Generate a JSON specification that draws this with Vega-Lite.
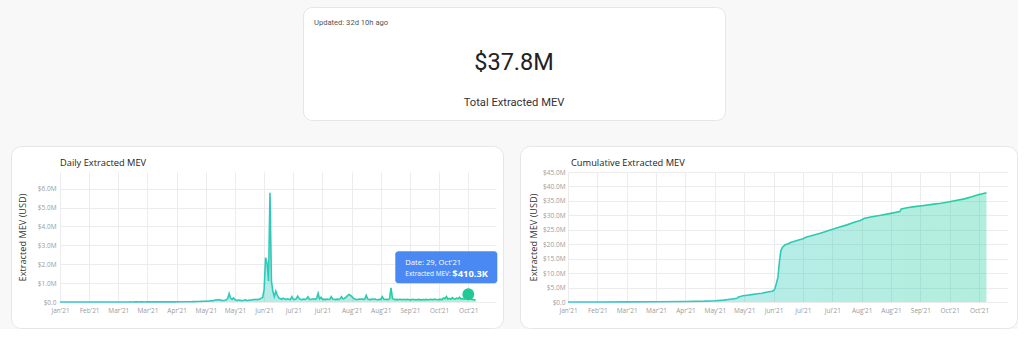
{
  "$schema": "https://vega.github.io/schema/vega-lite/v6.json",
  "background": "#f8f8f8",
  "padding": {"left": 10, "top": 6, "right": 0, "bottom": 0},
  "spacing": 24,
  "config": {
    "font": "Open Sans",
    "view": {"stroke": null},
    "axis": {"labelFont": "Open Sans", "labelFontSize": 6.5, "labelColor": "#9b9b9b", "titleFont": "Open Sans", "titleFontSize": 9.2, "titleFontWeight": "normal", "titleColor": "#333333", "gridColor": "#ececec", "gridWidth": 1, "domain": false, "ticks": false},
    "title": {"font": "Open Sans", "fontSize": 9.3, "fontWeight": "normal", "color": "#222222", "anchor": "start", "frame": "group", "offset": 0, "baseline": "middle"}
  },
  "datasets": {
    "kpi": [
      {"line": "updated", "side": "left", "text": "Updated: 32d 10h ago"},
      {"line": "total", "side": "center", "text": "$37.8M"},
      {"line": "caption", "side": "center", "text": "Total Extracted MEV"}
    ],
    "tip": [
      {"date": "2021-10-29", "mev": 410300, "date_label": "Date: 29, Oct'21", "key": "Extracted MEV:", "mev_label": "$410.3K"}
    ],
    "daily": [
      {"date":"2021-01-22","mev":800},{"date":"2021-01-23","mev":1200},{"date":"2021-01-24","mev":600},{"date":"2021-01-25","mev":1500},{"date":"2021-01-26","mev":1000},{"date":"2021-01-27","mev":1900},{"date":"2021-01-28","mev":1300},{"date":"2021-01-29","mev":900},{"date":"2021-01-30","mev":1600},{"date":"2021-01-31","mev":1100},
      {"date":"2021-02-01","mev":1400},{"date":"2021-02-02","mev":1000},{"date":"2021-02-03","mev":1900},{"date":"2021-02-04","mev":1600},{"date":"2021-02-05","mev":900},{"date":"2021-02-06","mev":1300},{"date":"2021-02-07","mev":2100},{"date":"2021-02-08","mev":1700},{"date":"2021-02-09","mev":1400},{"date":"2021-02-10","mev":1100},{"date":"2021-02-11","mev":1900},{"date":"2021-02-12","mev":1500},{"date":"2021-02-13","mev":1200},{"date":"2021-02-14","mev":2200},{"date":"2021-02-15","mev":1800},{"date":"2021-02-16","mev":1500},{"date":"2021-02-17","mev":2400},{"date":"2021-02-18","mev":2000},{"date":"2021-02-19","mev":1600},{"date":"2021-02-20","mev":2300},{"date":"2021-02-21","mev":2600},{"date":"2021-02-22","mev":1800},{"date":"2021-02-23","mev":2200},{"date":"2021-02-24","mev":2900},{"date":"2021-02-25","mev":2400},{"date":"2021-02-26","mev":2000},{"date":"2021-02-27","mev":2700},{"date":"2021-02-28","mev":3100},
      {"date":"2021-03-01","mev":2800},{"date":"2021-03-02","mev":2300},{"date":"2021-03-03","mev":3200},{"date":"2021-03-04","mev":3600},{"date":"2021-03-05","mev":2800},{"date":"2021-03-06","mev":3100},{"date":"2021-03-07","mev":3900},{"date":"2021-03-08","mev":3400},{"date":"2021-03-09","mev":2900},{"date":"2021-03-10","mev":3700},{"date":"2021-03-11","mev":4200},{"date":"2021-03-12","mev":3800},{"date":"2021-03-13","mev":3300},{"date":"2021-03-14","mev":4100},{"date":"2021-03-15","mev":4600},{"date":"2021-03-16","mev":4000},{"date":"2021-03-17","mev":3600},{"date":"2021-03-18","mev":4400},{"date":"2021-03-19","mev":4900},{"date":"2021-03-20","mev":4300},{"date":"2021-03-21","mev":3900},{"date":"2021-03-22","mev":4800},{"date":"2021-03-23","mev":5300},{"date":"2021-03-24","mev":4800},{"date":"2021-03-25","mev":4300},{"date":"2021-03-26","mev":5200},{"date":"2021-03-27","mev":5700},{"date":"2021-03-28","mev":5100},{"date":"2021-03-29","mev":4600},{"date":"2021-03-30","mev":5500},{"date":"2021-03-31","mev":6000},
      {"date":"2021-04-01","mev":5600},{"date":"2021-04-02","mev":6400},{"date":"2021-04-03","mev":6000},{"date":"2021-04-04","mev":7100},{"date":"2021-04-05","mev":6700},{"date":"2021-04-06","mev":7600},{"date":"2021-04-07","mev":7200},{"date":"2021-04-08","mev":8300},{"date":"2021-04-09","mev":7800},{"date":"2021-04-10","mev":8900},{"date":"2021-04-11","mev":8500},{"date":"2021-04-12","mev":9500},{"date":"2021-04-13","mev":9000},{"date":"2021-04-14","mev":10300},{"date":"2021-04-15","mev":9800},{"date":"2021-04-16","mev":11100},{"date":"2021-04-17","mev":10600},{"date":"2021-04-18","mev":12100},{"date":"2021-04-19","mev":11500},{"date":"2021-04-20","mev":13200},{"date":"2021-04-21","mev":15800},{"date":"2021-04-22","mev":14500},{"date":"2021-04-23","mev":18200},{"date":"2021-04-24","mev":21500},{"date":"2021-04-25","mev":19800},{"date":"2021-04-26","mev":24600},{"date":"2021-04-27","mev":29500},{"date":"2021-04-28","mev":27100},{"date":"2021-04-29","mev":33800},{"date":"2021-04-30","mev":38500},
      {"date":"2021-05-01","mev":42000},{"date":"2021-05-02","mev":47000},{"date":"2021-05-03","mev":39000},{"date":"2021-05-04","mev":55000},{"date":"2021-05-05","mev":61000},{"date":"2021-05-06","mev":72000},{"date":"2021-05-07","mev":68000},{"date":"2021-05-08","mev":95000},{"date":"2021-05-09","mev":118000},{"date":"2021-05-10","mev":104000},{"date":"2021-05-11","mev":126000},{"date":"2021-05-12","mev":98000},{"date":"2021-05-13","mev":86000},{"date":"2021-05-14","mev":79000},{"date":"2021-05-15","mev":93000},{"date":"2021-05-16","mev":112000},{"date":"2021-05-17","mev":185000},{"date":"2021-05-18","mev":450000},{"date":"2021-05-19","mev":205000},{"date":"2021-05-20","mev":140000},{"date":"2021-05-21","mev":215000},{"date":"2021-05-22","mev":128000},{"date":"2021-05-23","mev":96000},{"date":"2021-05-24","mev":88000},{"date":"2021-05-25","mev":105000},{"date":"2021-05-26","mev":82000},{"date":"2021-05-27","mev":74000},{"date":"2021-05-28","mev":91000},{"date":"2021-05-29","mev":115000},{"date":"2021-05-30","mev":87000},{"date":"2021-05-31","mev":78000},
      {"date":"2021-06-01","mev":102000},{"date":"2021-06-02","mev":95000},{"date":"2021-06-03","mev":131000},{"date":"2021-06-04","mev":118000},{"date":"2021-06-05","mev":145000},{"date":"2021-06-06","mev":124000},{"date":"2021-06-07","mev":138000},{"date":"2021-06-08","mev":162000},{"date":"2021-06-09","mev":205000},{"date":"2021-06-10","mev":246000},{"date":"2021-06-11","mev":680000},{"date":"2021-06-12","mev":2350000},{"date":"2021-06-13","mev":2050000},{"date":"2021-06-14","mev":1100000},{"date":"2021-06-15","mev":5780000},{"date":"2021-06-16","mev":1100000},{"date":"2021-06-17","mev":550000},{"date":"2021-06-18","mev":290000},{"date":"2021-06-19","mev":580000},{"date":"2021-06-20","mev":370000},{"date":"2021-06-21","mev":215000},{"date":"2021-06-22","mev":180000},{"date":"2021-06-23","mev":145000},{"date":"2021-06-24","mev":205000},{"date":"2021-06-25","mev":160000},{"date":"2021-06-26","mev":138000},{"date":"2021-06-27","mev":172000},{"date":"2021-06-28","mev":150000},{"date":"2021-06-29","mev":128000},{"date":"2021-06-30","mev":280000},
      {"date":"2021-07-01","mev":150000},{"date":"2021-07-02","mev":135000},{"date":"2021-07-03","mev":168000},{"date":"2021-07-04","mev":310000},{"date":"2021-07-05","mev":175000},{"date":"2021-07-06","mev":142000},{"date":"2021-07-07","mev":128000},{"date":"2021-07-08","mev":156000},{"date":"2021-07-09","mev":139000},{"date":"2021-07-10","mev":162000},{"date":"2021-07-11","mev":280000},{"date":"2021-07-12","mev":148000},{"date":"2021-07-13","mev":133000},{"date":"2021-07-14","mev":158000},{"date":"2021-07-15","mev":171000},{"date":"2021-07-16","mev":145000},{"date":"2021-07-17","mev":190000},{"date":"2021-07-18","mev":460000},{"date":"2021-07-19","mev":165000},{"date":"2021-07-20","mev":250000},{"date":"2021-07-21","mev":138000},{"date":"2021-07-22","mev":152000},{"date":"2021-07-23","mev":129000},{"date":"2021-07-24","mev":161000},{"date":"2021-07-25","mev":147000},{"date":"2021-07-26","mev":135000},{"date":"2021-07-27","mev":280000},{"date":"2021-07-28","mev":158000},{"date":"2021-07-29","mev":142000},{"date":"2021-07-30","mev":126000},{"date":"2021-07-31","mev":149000},
      {"date":"2021-08-01","mev":137000},{"date":"2021-08-02","mev":162000},{"date":"2021-08-03","mev":280000},{"date":"2021-08-04","mev":168000},{"date":"2021-08-05","mev":190000},{"date":"2021-08-06","mev":250000},{"date":"2021-08-07","mev":320000},{"date":"2021-08-08","mev":400000},{"date":"2021-08-09","mev":360000},{"date":"2021-08-10","mev":300000},{"date":"2021-08-11","mev":220000},{"date":"2021-08-12","mev":155000},{"date":"2021-08-13","mev":140000},{"date":"2021-08-14","mev":132000},{"date":"2021-08-15","mev":158000},{"date":"2021-08-16","mev":146000},{"date":"2021-08-17","mev":171000},{"date":"2021-08-18","mev":139000},{"date":"2021-08-19","mev":155000},{"date":"2021-08-20","mev":350000},{"date":"2021-08-21","mev":162000},{"date":"2021-08-22","mev":137000},{"date":"2021-08-23","mev":128000},{"date":"2021-08-24","mev":151000},{"date":"2021-08-25","mev":143000},{"date":"2021-08-26","mev":160000},{"date":"2021-08-27","mev":134000},{"date":"2021-08-28","mev":122000},{"date":"2021-08-29","mev":148000},{"date":"2021-08-30","mev":139000},{"date":"2021-08-31","mev":280000},
      {"date":"2021-09-01","mev":152000},{"date":"2021-09-02","mev":131000},{"date":"2021-09-03","mev":146000},{"date":"2021-09-04","mev":125000},{"date":"2021-09-05","mev":168000},{"date":"2021-09-06","mev":750000},{"date":"2021-09-07","mev":190000},{"date":"2021-09-08","mev":142000},{"date":"2021-09-09","mev":128000},{"date":"2021-09-10","mev":136000},{"date":"2021-09-11","mev":119000},{"date":"2021-09-12","mev":145000},{"date":"2021-09-13","mev":132000},{"date":"2021-09-14","mev":124000},{"date":"2021-09-15","mev":141000},{"date":"2021-09-16","mev":118000},{"date":"2021-09-17","mev":137000},{"date":"2021-09-18","mev":129000},{"date":"2021-09-19","mev":112000},{"date":"2021-09-20","mev":126000},{"date":"2021-09-21","mev":143000},{"date":"2021-09-22","mev":121000},{"date":"2021-09-23","mev":133000},{"date":"2021-09-24","mev":117000},{"date":"2021-09-25","mev":138000},{"date":"2021-09-26","mev":125000},{"date":"2021-09-27","mev":114000},{"date":"2021-09-28","mev":131000},{"date":"2021-09-29","mev":122000},{"date":"2021-09-30","mev":139000},
      {"date":"2021-10-01","mev":127000},{"date":"2021-10-02","mev":118000},{"date":"2021-10-03","mev":142000},{"date":"2021-10-04","mev":131000},{"date":"2021-10-05","mev":124000},{"date":"2021-10-06","mev":156000},{"date":"2021-10-07","mev":133000},{"date":"2021-10-08","mev":121000},{"date":"2021-10-09","mev":145000},{"date":"2021-10-10","mev":138000},{"date":"2021-10-11","mev":126000},{"date":"2021-10-12","mev":210000},{"date":"2021-10-13","mev":175000},{"date":"2021-10-14","mev":285000},{"date":"2021-10-15","mev":150000},{"date":"2021-10-16","mev":190000},{"date":"2021-10-17","mev":142000},{"date":"2021-10-18","mev":230000},{"date":"2021-10-19","mev":165000},{"date":"2021-10-20","mev":148000},{"date":"2021-10-21","mev":205000},{"date":"2021-10-22","mev":170000},{"date":"2021-10-23","mev":250000},{"date":"2021-10-24","mev":158000},{"date":"2021-10-25","mev":184000},{"date":"2021-10-26","mev":146000},{"date":"2021-10-27","mev":172000},{"date":"2021-10-28","mev":198000},{"date":"2021-10-29","mev":410300},{"date":"2021-10-30","mev":165000},{"date":"2021-10-31","mev":142000},
      {"date":"2021-11-01","mev":135000},{"date":"2021-11-02","mev":118000},{"date":"2021-11-03","mev":95000}
    ],
    "cumulative": [
      {"date":"2021-01-22","total":0},{"date":"2021-02-11","total":10000},{"date":"2021-03-03","total":40000},{"date":"2021-03-23","total":100000},{"date":"2021-04-12","total":180000},{"date":"2021-04-25","total":300000},{"date":"2021-05-02","total":450000},{"date":"2021-05-08","total":650000},{"date":"2021-05-11","total":850000},{"date":"2021-05-15","total":1150000},{"date":"2021-05-17","total":1300000},{"date":"2021-05-18","total":1750000},{"date":"2021-05-20","total":2000000},{"date":"2021-05-21","total":2150000},{"date":"2021-05-24","total":2350000},{"date":"2021-05-27","total":2550000},{"date":"2021-05-31","total":2850000},{"date":"2021-06-03","total":3050000},{"date":"2021-06-07","total":3450000},{"date":"2021-06-10","total":3750000},{"date":"2021-06-11","total":3950000},{"date":"2021-06-12","total":4700000},{"date":"2021-06-13","total":6600000},{"date":"2021-06-14","total":8600000},{"date":"2021-06-15","total":14000000},{"date":"2021-06-16","total":17800000},{"date":"2021-06-17","total":18900000},{"date":"2021-06-18","total":19400000},{"date":"2021-06-19","total":19800000},{"date":"2021-06-21","total":20200000},{"date":"2021-06-23","total":20700000},{"date":"2021-06-27","total":21300000},{"date":"2021-07-01","total":21900000},{"date":"2021-07-03","total":22400000},{"date":"2021-07-08","total":23100000},{"date":"2021-07-14","total":24000000},{"date":"2021-07-19","total":24800000},{"date":"2021-07-25","total":25800000},{"date":"2021-07-31","total":26700000},{"date":"2021-08-05","total":27600000},{"date":"2021-08-09","total":28200000},{"date":"2021-08-12","total":29000000},{"date":"2021-08-17","total":29500000},{"date":"2021-08-23","total":30000000},{"date":"2021-08-29","total":30600000},{"date":"2021-09-05","total":31300000},{"date":"2021-09-06","total":32200000},{"date":"2021-09-10","total":32600000},{"date":"2021-09-15","total":33000000},{"date":"2021-09-20","total":33300000},{"date":"2021-09-27","total":33800000},{"date":"2021-10-03","total":34200000},{"date":"2021-10-08","total":34600000},{"date":"2021-10-14","total":35200000},{"date":"2021-10-19","total":35700000},{"date":"2021-10-24","total":36400000},{"date":"2021-10-29","total":37200000},{"date":"2021-11-01","total":37550000},{"date":"2021-11-03","total":37800000}
    ]
  },
  "vconcat": [
    {
      "spacing": 0,
      "bounds": "flush",
      "hconcat": [
        {
          "width": 292,
          "height": 113,
          "data": {"values": [{"blank": ""}]},
          "mark": {"type": "point", "opacity": 0},
          "encoding": {}
        },
        {
          "width": 422,
          "height": 113,
          "view": {"fill": "white", "stroke": "#e6e6e6", "cornerRadius": 9},
          "data": {"name": "kpi"},
          "encoding": {
            "x": {"field": "side", "type": "nominal", "scale": {"type": "point", "domain": ["left", "center", "right"], "padding": 0.055}, "axis": null},
            "y": {"field": "line", "type": "nominal", "scale": {"type": "point", "domain": ["updated", "total", "caption"], "padding": 0.4125, "align": 0.485}, "axis": null},
            "text": {"field": "text"}
          },
          "layer": [
            {"transform": [{"filter": "datum.line == 'updated'"}], "mark": {"type": "text", "align": "left", "baseline": "middle", "font": "Roboto", "fontSize": 7.6, "color": "#555555"}},
            {"transform": [{"filter": "datum.line == 'total'"}], "mark": {"type": "text", "align": "center", "baseline": "middle", "font": "Roboto", "fontSize": 23.5, "color": "#222222"}},
            {"transform": [{"filter": "datum.line == 'caption'"}], "mark": {"type": "text", "align": "center", "baseline": "middle", "font": "Roboto", "fontSize": 11.2, "color": "#333333"}}
          ]
        }
      ]
    },
    {
      "spacing": 17,
      "bounds": "flush",
      "hconcat": [
        {
          "width": 492,
          "height": 182,
          "view": {"fill": "white", "stroke": "#e6e6e6", "cornerRadius": 10},
          "title": {"text": "Daily Extracted MEV", "dx": 49, "dy": 26},
          "resolve": {"axis": {"x": "independent", "y": "independent"}},
          "layer": [
            {
              "data": {"name": "daily"},
              "mark": {"type": "area", "opacity": 0.35, "color": {"gradient": "linear", "x1": 0, "y1": 0, "x2": 1, "y2": 0, "stops": [{"offset": 0, "color": "#3cc4d6"}, {"offset": 1, "color": "#22ce9c"}]}},
              "encoding": {
                "x": {"field": "date", "type": "temporal",
                  "scale": {"type": "utc", "nice": false, "range": [49, 485], "domain": [{"year": 2021, "month": 1, "date": 22, "utc": true}, {"year": 2021, "month": 11, "date": 17, "utc": true}]},
                  "axis": {"orient": "bottom", "offset": -26, "grid": true, "title": null, "format": "%b'%y", "labelPadding": 5, "labelFlush": false, "labelOverlap": false,
                    "values": [{"year":2021,"month":1,"date":22,"utc":true},{"year":2021,"month":2,"date":11,"utc":true},{"year":2021,"month":3,"date":3,"utc":true},{"year":2021,"month":3,"date":23,"utc":true},{"year":2021,"month":4,"date":12,"utc":true},{"year":2021,"month":5,"date":2,"utc":true},{"year":2021,"month":5,"date":22,"utc":true},{"year":2021,"month":6,"date":11,"utc":true},{"year":2021,"month":7,"date":1,"utc":true},{"year":2021,"month":7,"date":21,"utc":true},{"year":2021,"month":8,"date":10,"utc":true},{"year":2021,"month":8,"date":30,"utc":true},{"year":2021,"month":9,"date":19,"utc":true},{"year":2021,"month":10,"date":9,"utc":true},{"year":2021,"month":10,"date":29,"utc":true}]}},
                "y": {"field": "mev", "type": "quantitative",
                  "scale": {"domain": [0, 6880000], "range": [156, 26], "nice": false},
                  "axis": {"orient": "left", "offset": -49, "grid": true, "title": "Extracted MEV (USD)", "titlePadding": 9.5, "labelPadding": 4, "values": [0, 1000000, 2000000, 3000000, 4000000, 5000000, 6000000],
                    "labelExpr": "datum.value === 0 ? '$0.0' : '$' + format(datum.value / 1000000, '.1f') + 'M'"}}
              }
            },
            {
              "data": {"name": "daily"},
              "mark": {"type": "line", "strokeWidth": 1.6, "color": {"gradient": "linear", "x1": 0, "y1": 0, "x2": 1, "y2": 0, "stops": [{"offset": 0, "color": "#3cc4d6"}, {"offset": 1, "color": "#22ce9c"}]}},
              "encoding": {
                "x": {"field": "date", "type": "temporal", "axis": null},
                "y": {"field": "mev", "type": "quantitative", "axis": null}
              }
            },
            {
              "data": {"name": "tip"},
              "mark": {"type": "point", "filled": true, "size": 140, "color": "#20c997", "opacity": 1},
              "encoding": {
                "x": {"field": "date", "type": "temporal", "axis": null},
                "y": {"field": "mev", "type": "quantitative", "axis": null}
              }
            },
            {
              "data": {"name": "tip"},
              "mark": {"type": "rect", "color": "#4a89f3", "cornerRadius": 3, "xOffset": -73, "x2Offset": 29, "yOffset": -43, "y2Offset": -11},
              "encoding": {
                "x": {"field": "date", "type": "temporal", "axis": null},
                "x2": {"field": "date"},
                "y": {"field": "mev", "type": "quantitative", "axis": null},
                "y2": {"field": "mev"}
              }
            },
            {
              "data": {"name": "tip"},
              "mark": {"type": "text", "align": "left", "baseline": "middle", "dx": -63, "dy": -31, "fontSize": 7.6, "color": "white", "font": "Open Sans"},
              "encoding": {
                "x": {"field": "date", "type": "temporal", "axis": null},
                "y": {"field": "mev", "type": "quantitative", "axis": null},
                "text": {"field": "date_label"}
              }
            },
            {
              "data": {"name": "tip"},
              "mark": {"type": "text", "align": "left", "baseline": "middle", "dx": -63, "dy": -20, "fontSize": 6.5, "color": "white", "font": "Open Sans"},
              "encoding": {
                "x": {"field": "date", "type": "temporal", "axis": null},
                "y": {"field": "mev", "type": "quantitative", "axis": null},
                "text": {"field": "key"}
              }
            },
            {
              "data": {"name": "tip"},
              "mark": {"type": "text", "align": "left", "baseline": "middle", "dx": -16, "dy": -20, "fontSize": 9.4, "fontWeight": "bold", "color": "white", "font": "Open Sans"},
              "encoding": {
                "x": {"field": "date", "type": "temporal", "axis": null},
                "y": {"field": "mev", "type": "quantitative", "axis": null},
                "text": {"field": "mev_label"}
              }
            }
          ]
        },
        {
          "width": 497,
          "height": 182,
          "view": {"fill": "white", "stroke": "#e6e6e6", "cornerRadius": 10},
          "title": {"text": "Cumulative Extracted MEV", "dx": 51, "dy": 26},
          "resolve": {"axis": {"x": "independent", "y": "independent"}},
          "data": {"name": "cumulative"},
          "layer": [
            {
              "mark": {"type": "area", "opacity": 0.35, "color": {"gradient": "linear", "x1": 0, "y1": 0, "x2": 1, "y2": 0, "stops": [{"offset": 0, "color": "#3cc4d6"}, {"offset": 1, "color": "#22ce9c"}]}},
              "encoding": {
                "x": {"field": "date", "type": "temporal",
                  "scale": {"type": "utc", "nice": false, "range": [48, 487], "domain": [{"year": 2021, "month": 1, "date": 22, "utc": true}, {"year": 2021, "month": 11, "date": 17, "utc": true}]},
                  "axis": {"orient": "bottom", "offset": -26, "grid": true, "title": null, "format": "%b'%y", "labelPadding": 5, "labelFlush": false, "labelOverlap": false,
                    "values": [{"year":2021,"month":1,"date":22,"utc":true},{"year":2021,"month":2,"date":11,"utc":true},{"year":2021,"month":3,"date":3,"utc":true},{"year":2021,"month":3,"date":23,"utc":true},{"year":2021,"month":4,"date":12,"utc":true},{"year":2021,"month":5,"date":2,"utc":true},{"year":2021,"month":5,"date":22,"utc":true},{"year":2021,"month":6,"date":11,"utc":true},{"year":2021,"month":7,"date":1,"utc":true},{"year":2021,"month":7,"date":21,"utc":true},{"year":2021,"month":8,"date":10,"utc":true},{"year":2021,"month":8,"date":30,"utc":true},{"year":2021,"month":9,"date":19,"utc":true},{"year":2021,"month":10,"date":9,"utc":true},{"year":2021,"month":10,"date":29,"utc":true}]}},
                "y": {"field": "total", "type": "quantitative",
                  "scale": {"domain": [0, 45000000], "range": [156, 26], "nice": false},
                  "axis": {"orient": "left", "offset": -48, "grid": true, "title": "Extracted MEV (USD)", "titlePadding": 4, "labelPadding": 3, "values": [0, 5000000, 10000000, 15000000, 20000000, 25000000, 30000000, 35000000, 40000000, 45000000],
                    "labelExpr": "datum.value === 0 ? '$0.0' : '$' + format(datum.value / 1000000, '.1f') + 'M'"}}
              }
            },
            {
              "mark": {"type": "line", "strokeWidth": 1.6, "color": {"gradient": "linear", "x1": 0, "y1": 0, "x2": 1, "y2": 0, "stops": [{"offset": 0, "color": "#3cc4d6"}, {"offset": 1, "color": "#22ce9c"}]}},
              "encoding": {
                "x": {"field": "date", "type": "temporal", "axis": null},
                "y": {"field": "total", "type": "quantitative", "axis": null}
              }
            }
          ]
        }
      ]
    }
  ]
}
